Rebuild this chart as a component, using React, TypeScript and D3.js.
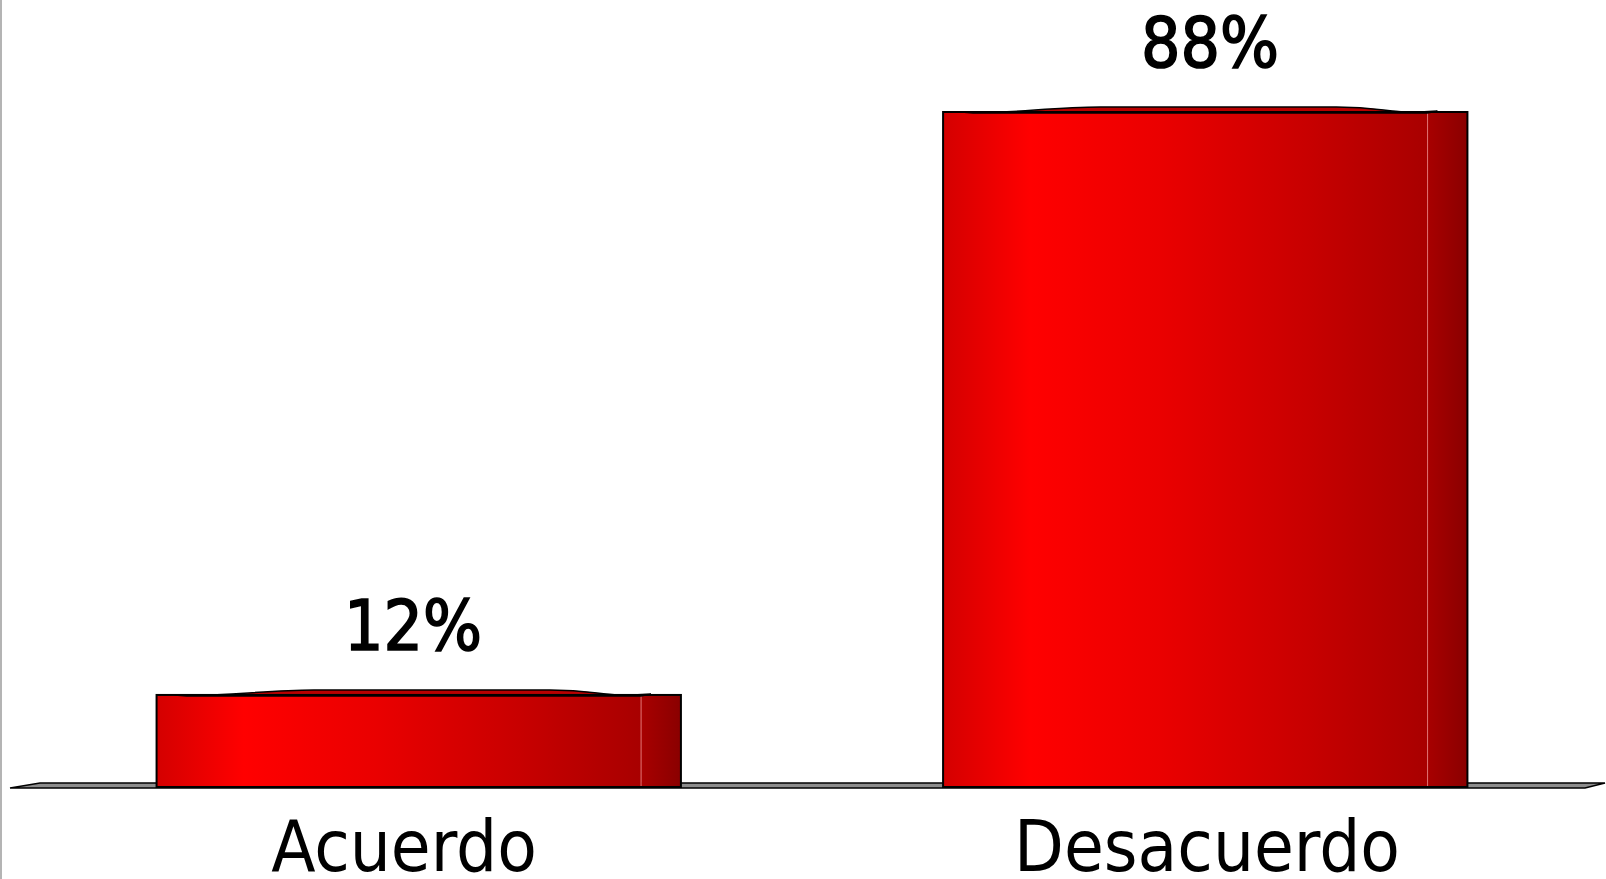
// 3D-ish bar chart: Acuerdo vs Desacuerdo
import * as d3 from "d3";
import { useEffect } from "react";

const categories = ["Acuerdo", "Desacuerdo"];
const values = [12, 88];
const valueLabels = ["12%", "88%"];

const W = 1606;
const H = 879;
const floorY = 787;
const FONT = "'DejaVu Sans Condensed', 'DejaVu Sans', sans-serif";

export default function App() {
  useEffect(() => {
    document.body.style.margin = "0";
  }, []);

  const x = d3
    .scaleBand<string>()
    .domain(categories)
    .range([15, 1609])
    .paddingInner(1 / 3)
    .paddingOuter(0.18);

  // labels are not exactly centred on the bars in the original
  const labelX = d3.scalePoint<string>().domain(categories).range([404, 1207]);
  const valueX = d3.scalePoint<string>().domain(categories).range([413, 1210]);

  const y = d3.scaleLinear().domain([0, 88]).range([floorY, 112]);
  const bw = x.bandwidth();
  const side = bw * 0.076; // right face width

  return (
    <svg width={W} height={H} style={{ display: "block", background: "#fff" }}>
      <defs>
        <linearGradient id="front" x1="0" x2="1" y1="0" y2="0">
          <stop offset="0%" stopColor="#d40000" />
          <stop offset="18%" stopColor="#ff0000" />
          <stop offset="45%" stopColor="#ea0000" />
          <stop offset="75%" stopColor="#c80000" />
          <stop offset="100%" stopColor="#a80000" />
        </linearGradient>
        <linearGradient id="sideG" x1="0" x2="1" y1="0" y2="0">
          <stop offset="0%" stopColor="#a80000" />
          <stop offset="100%" stopColor="#8a0000" />
        </linearGradient>
      </defs>

      {/* left border */}
      <line x1={1} x2={1} y1={0} y2={H} stroke="#b4b4b4" strokeWidth={2} />

      {/* floor */}
      <path
        d={`M10,${floorY + 1} L40,${floorY - 4} L1605,${floorY - 4} L1585,${floorY + 1} Z`}
        fill="#8c8c8c"
        stroke="#000"
        strokeWidth={1.5}
      />

      {categories.map((c, i) => {
        const x0 = x(c)!;
        const x1 = x0 + bw;
        const top = y(values[i]);
        const sx = x1 - side;
        const capPath = `M${x0 + 18},${top} C${x0 + 60},${top + 3} ${x0 + bw * 0.2},${top - 5} ${x0 + bw * 0.3},${top - 5}
          L${x1 - bw * 0.25},${top - 5} C${x1 - bw * 0.15},${top - 5} ${x1 - 80},${top + 3} ${x1 - 30},${top - 1}
          L${x1 - 40},${top + 1} L${x0 + 30},${top + 1} Z`;
        return (
          <g key={c}>
            <rect x={x0} y={top} width={sx - x0} height={floorY - top} fill="url(#front)" />
            <rect x={sx} y={top} width={side} height={floorY - top} fill="url(#sideG)" />
            <line x1={sx} x2={sx} y1={top} y2={floorY} stroke="#e07070" strokeWidth={1} />
            <path d={capPath} fill="#b80000" stroke="#000" strokeWidth={1.5} />
            <rect
              x={x0}
              y={top}
              width={bw}
              height={floorY - top}
              fill="none"
              stroke="#000"
              strokeWidth={2}
            />
            <text
              x={valueX(c)}
              y={top - 45}
              textAnchor="middle"
              fontFamily={FONT}
              fontSize={69}
              fill="#000"
              stroke="#000"
              strokeWidth={1.6}
            >
              {valueLabels[i]}
            </text>
            <text
              x={labelX(c)}
              y={871}
              textAnchor="middle"
              fontFamily={FONT}
              fontSize={72}
              fill="#000"
            >
              {c}
            </text>
          </g>
        );
      })}
    </svg>
  );
}
